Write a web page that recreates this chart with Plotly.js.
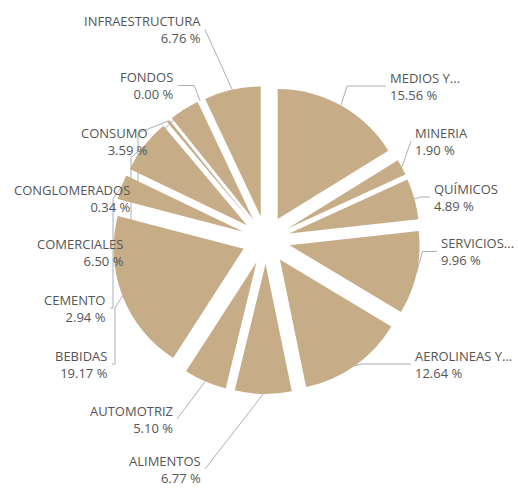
<!DOCTYPE html>
<html><head><meta charset="utf-8">
<script src="https://cdn.plot.ly/plotly-3.0.1.min.js"></script>
<style>html,body{margin:0;padding:0;background:#fff}#chart{width:518px;height:489px}</style>
</head><body><div id="chart"></div>
<script>
// ---- data ----
const categories = ["MEDIOS Y...", "MINERIA", "QUÍMICOS", "SERVICIOS...", "AEROLINEAS Y...", "ALIMENTOS", "AUTOMOTRIZ", "BEBIDAS", "CEMENTO", "COMERCIALES", "CONGLOMERADOS", "CONSUMO", "FONDOS", "INFRAESTRUCTURA"];
const shares = [15.56, 1.90, 4.89, 9.96, 12.64, 6.77, 5.10, 19.17, 2.94, 6.50, 0.34, 3.59, 0.00, 6.76];
const shareLabels = ["15.56 %", "1.90 %", "4.89 %", "9.96 %", "12.64 %", "6.77 %", "5.10 %", "19.17 %", "2.94 %", "6.50 %", "0.34 %", "3.59 %", "0.00 %", "6.76 %"];

// ---- label layout (pixels) ----
const labelX = [388, 413, 432, 439, 413, 203, 175, 110, 108, 126, 133, 150, 176, 203];
const labelY = [86, 141, 197, 251.5, 364, 469, 419, 364, 308, 252, 198, 141.5, 85.5, 29.5];
const labelAnchor = ['left','left','left','left','left','right','right','right','right','right','right','right','right','right'];
const connMode = ['h','s','h','h','h','s','s','v','v','v','v','s','h','s'];

// ---- geometry ----
const W = 518, H = 489;
const PULL = 0.185, CX = 266, CY = 240, R = 130;
const half = R * (1 + PULL);
const FILL = '#c6ad88';

const total = shares.reduce((a, b) => a + b, 0);
const px = (x, y) => [(x / W).toFixed(5), (1 - y / H).toFixed(5)];

let cum = 0;
const shapes = [];
const annotations = [];
categories.forEach((c, i) => {
  const mid = (cum + shares[i] / 2) / total * 2 * Math.PI;
  cum += shares[i];
  const rr = R * (1 + PULL);
  const P = [CX + rr * Math.sin(mid), CY - rr * Math.cos(mid)];
  const left = labelAnchor[i] === 'left';
  const L = [labelX[i] + (left ? -2 : 2), labelY[i]];
  let pts;
  if (connMode[i] === 'h') {
    const ex = P[0] + (left ? 6 : -6);
    pts = [L, [ex, L[1]], P];
  } else if (connMode[i] === 'v') {
    const vx = L[0] + 3;
    const vy = P[1] + (L[1] > P[1] ? 12 : -12);
    pts = [L, [vx, L[1]], [vx, vy], P];
  } else {
    pts = [L, P];
  }
  const path = pts.map((p, k) => (k ? 'L' : 'M') + px(p[0], p[1]).join(',')).join(' ');
  shapes.push({type: 'path', xref: 'paper', yref: 'paper', path: path, layer: 'below',
    line: {color: '#aab0b6', width: 1}});
  annotations.push({
    xref: 'paper', yref: 'paper', x: labelX[i] / W, y: 1 - labelY[i] / H,
    xanchor: labelAnchor[i], yanchor: 'middle', align: labelAnchor[i],
    showarrow: false, text: c + '<br>' + shareLabels[i],
    font: {family: 'Open Sans, sans-serif', size: 13, color: '#555555'}
  });
});

const trace = {
  type: 'pie',
  labels: categories,
  values: shares,
  sort: false,
  direction: 'clockwise',
  rotation: 0,
  pull: PULL,
  textinfo: 'none',
  hoverinfo: 'label+percent',
  marker: {colors: categories.map(() => FILL), line: {width: 0}},
  domain: {x: [(CX - half) / W, (CX + half) / W], y: [1 - (CY + half) / H, 1 - (CY - half) / H]},
  showlegend: false
};

Plotly.newPlot('chart', [trace], {
  width: W, height: H,
  margin: {l: 0, r: 0, t: 0, b: 0},
  paper_bgcolor: '#ffffff',
  showlegend: false,
  shapes: shapes,
  annotations: annotations
}, {displayModeBar: false, staticPlot: true});
</script>
</body></html>
